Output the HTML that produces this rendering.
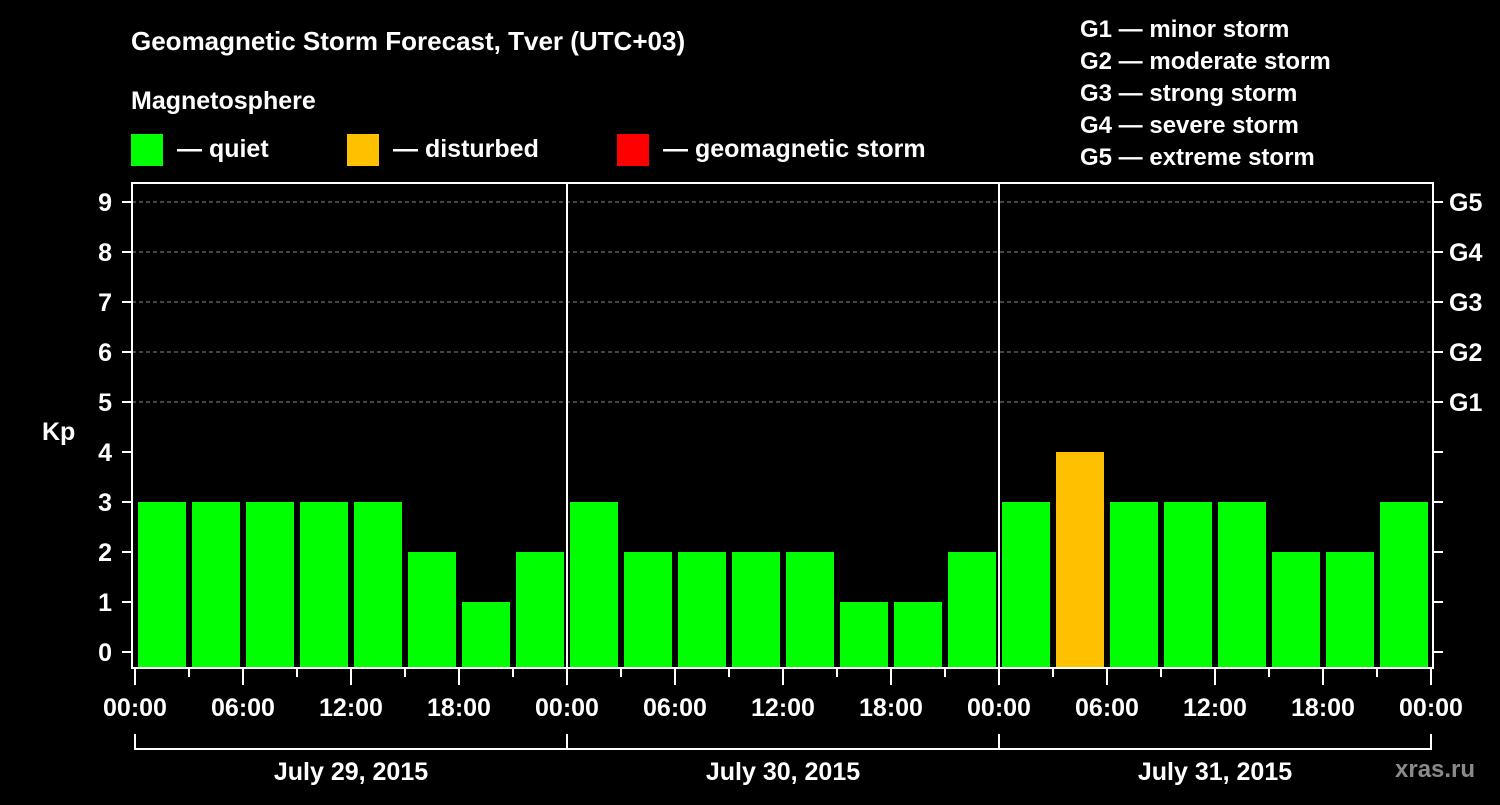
<!DOCTYPE html>
<html><head><meta charset="utf-8"><style>
body{margin:0;background:#000;}
svg text{font-family:"Liberation Sans",Arial,sans-serif;font-weight:bold;fill:#fff;}
</style></head><body>
<svg id="c" width="1500" height="800" font-family="Liberation Sans, Arial, sans-serif">
<rect width="1500" height="800" fill="#000"/>
<text x="131" y="50" font-size="26">Geomagnetic Storm Forecast, Tver (UTC+03)</text>
<text x="131" y="109" font-size="25">Magnetosphere</text>
<g><rect x="131" y="134" width="32" height="32" fill="#00ff00"/><text x="177" y="157" font-size="25">— quiet</text></g>
<g><rect x="347" y="134" width="32" height="32" fill="#ffc000"/><text x="393" y="157" font-size="25">— disturbed</text></g>
<g><rect x="617" y="134" width="32" height="32" fill="#ff0000"/><text x="663" y="157" font-size="25">— geomagnetic storm</text></g>
<g font-size="24">
<text x="1080" y="37">G1 — minor storm</text><text x="1080" y="69">G2 — moderate storm</text><text x="1080" y="101">G3 — strong storm</text><text x="1080" y="133">G4 — severe storm</text><text x="1080" y="165">G5 — extreme storm</text></g>
<text x="42" y="440" font-size="25">Kp</text>
<text x="1395" y="777" font-size="24" style="fill:#8a8a8a">xras.ru</text>
<g id="plot"></g>
</svg>
<script>
const days=["July 29, 2015","July 30, 2015","July 31, 2015"];
const hourLabels=["00:00","06:00","12:00","18:00"];
const kp=[3,3,3,3,3,2,1,2, 3,2,2,2,2,1,1,2, 3,4,3,3,3,2,2,3];
const gLabels=["G1","G2","G3","G4","G5"];
const X0=135,SLOT=54,YZ=652,UNIT=50,PTOP=183,PBOT=668;
const ys=v=>YZ-v*UNIT, xs=i=>X0+i*SLOT;
const g=document.getElementById('plot');
const NS="http://www.w3.org/2000/svg";
function mk(t,a,txt){const e=document.createElementNS(NS,t);for(const k in a)e.setAttribute(k,a[k]);if(txt!=null)e.textContent=txt;g.appendChild(e);return e;}
for(let v=5;v<=9;v++){const e=mk('line',{x1:132,x2:1433,y1:ys(v),y2:ys(v),stroke:'#888','stroke-dasharray':'4,3','stroke-width':1});

}
kp.forEach((v,i)=>{const e=mk('rect',{x:xs(i)+3,y:ys(v),width:48,height:PBOT-ys(v),fill:v>=5?'#ff0000':v>=4?'#ffc000':'#00ff00'});

});
const f=mk('rect',{x:132,y:PTOP,width:1301,height:PBOT-PTOP,fill:'none',stroke:'#fff','stroke-width':2});


for(let d=1;d<days.length;d++){const e=mk('line',{x1:xs(d*8),x2:xs(d*8),y1:PTOP,y2:PBOT,stroke:'#fff','stroke-width':2});

}
for(let v=0;v<=9;v++){mk('line',{x1:122,x2:132,y1:ys(v),y2:ys(v),stroke:'#fff','stroke-width':2});
mk('line',{x1:1433,x2:1443,y1:ys(v),y2:ys(v),stroke:'#fff','stroke-width':2});
const t=mk('text',{x:112,y:ys(v)+9,'font-size':25,'text-anchor':'end'},v);

}
gLabels.forEach((l,i)=>{const t=mk('text',{x:1449,y:ys(5+i)+9,'font-size':25},l);

});
for(let i=0;i<=kp.length;i++){const major=i%2==0;
mk('line',{x1:xs(i),x2:xs(i),y1:PBOT,y2:major?685:677,stroke:'#fff','stroke-width':2});
if(major){const t=mk('text',{x:xs(i),y:716,'font-size':25,'text-anchor':'middle'},hourLabels[(i/2)%4]);

}}
days.forEach((d,k)=>{const a=xs(k*8),b=xs(k*8+8);
mk('line',{x1:a,x2:b,y1:749,y2:749,stroke:'#fff','stroke-width':2});
mk('line',{x1:a,x2:a,y1:734,y2:750,stroke:'#fff','stroke-width':2});
if(k==days.length-1)mk('line',{x1:b,x2:b,y1:734,y2:750,stroke:'#fff','stroke-width':2});
const t=mk('text',{x:(a+b)/2,y:780,'font-size':25,'text-anchor':'middle'},d);

});
</script>
</body></html>
